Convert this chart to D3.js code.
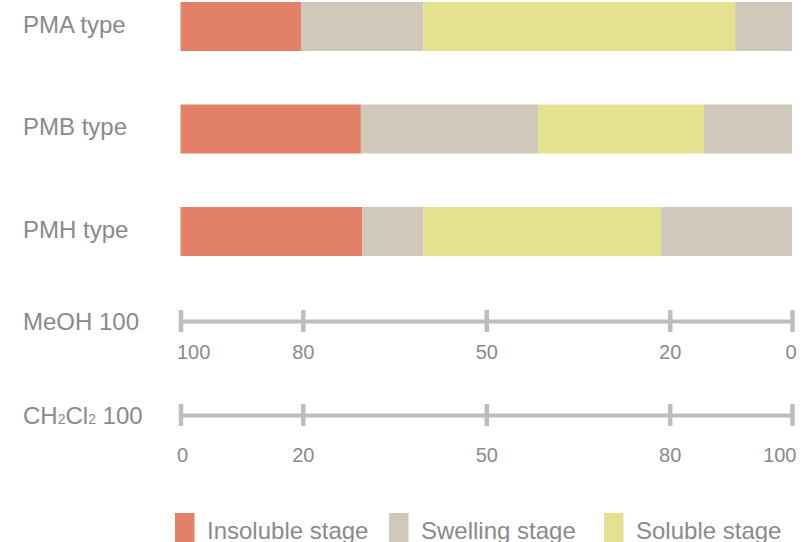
<!DOCTYPE html>
<html><head><meta charset="utf-8">
<script src="https://cdn.jsdelivr.net/npm/d3@7"></script>
<style>
html,body{margin:0;padding:0;background:#fff;}
svg{display:block;font-family:"Liberation Sans",Arial,Helvetica,sans-serif;}
</style></head>
<body><svg id="c" width="806" height="542"></svg>
<script>
// ---- data ----
const categories = ["PMA type", "PMB type", "PMH type"];
const insoluble = [19.7, 29.5, 29.7];
const swellingA = [20, 29, 10];
const soluble   = [51, 27.1, 38.9];
const swellingB = [9.3, 14.4, 21.4];
const stageNames = ["Insoluble stage", "Swelling stage", "Soluble stage"];
const meohTicks = [100, 80, 50, 20, 0];
const ch2cl2Ticks = [0, 20, 50, 80, 100];

const colors = {ins: "#E28068", swA: "#D0C8BB", sol: "#E5E28F", swB: "#D0C8BB"};
const legendColors = ["#E28068", "#D0C8BB", "#E5E28F"];
const textColor = "#8a8a8a";
const axisColor = "#bdbdbd";

const rows = categories.map((c, i) => ({cat: c, ins: insoluble[i], swA: swellingA[i], sol: soluble[i], swB: swellingB[i]}));
const keys = ["ins", "swA", "sol", "swB"];
const series = d3.stack().keys(keys)(rows);

const svg = d3.select("#c");
const x = d3.scaleLinear().domain([0, 100]).range([180.5, 792]);
const xr = d3.scaleLinear().domain([100, 0]).range([180.5, 792]);
const y = d3.scaleBand().domain(categories).range([2, 256]).paddingInner(0.522).paddingOuter(0);

// bars
svg.append("g").selectAll("g").data(series).join("g")
  .attr("fill", d => colors[d.key])
  .selectAll("rect").data(d => d).join("rect")
  .attr("x", d => x(d[0]))
  .attr("y", d => y(d.data.cat))
  .attr("width", d => x(d[1]) - x(d[0]))
  .attr("height", y.bandwidth());

// category labels
svg.append("g").selectAll("text").data(categories).join("text")
  .attr("x", 23)
  .attr("y", d => y(d) + y.bandwidth() / 2 - 2)
  .attr("dy", "0.35em")
  .attr("fill", textColor)
  .style("font-size", "24px")
  .text(d => d);

// axes
function drawAxis(scale, ticks, yPos, labelOffset) {
  const g = svg.append("g").attr("transform", `translate(0,${yPos})`);
  g.call(d3.axisBottom(scale).tickValues(ticks).tickSize(0).tickSizeOuter(0).tickFormat(d3.format("d")));
  g.select(".domain").attr("stroke", axisColor).attr("stroke-width", 4);
  g.selectAll(".tick line").attr("stroke", axisColor).attr("stroke-width", 4.5).attr("y1", -11).attr("y2", 11);
  const lo = 176.5, hi = 796;
  g.selectAll(".tick text")
    .attr("fill", textColor)
    .style("font-size", "20px")
    .style("font-family", "'Liberation Sans',Arial,sans-serif")
    .attr("y", labelOffset)
    .attr("dy", "0.35em")
    .each(function(d) {
      const w = this.getComputedTextLength();
      const px = scale(d);
      let shift = 0;
      if (px - w / 2 < lo) shift = lo - (px - w / 2);
      if (px + w / 2 > hi) shift = hi - (px + w / 2);
      d3.select(this).attr("x", shift);
    });
  return g;
}
drawAxis(xr, meohTicks, 321, 31);
drawAxis(x, ch2cl2Ticks, 415, 40);

// axis labels
svg.append("text").attr("x", 23).attr("y", 322).attr("dy", "0.35em")
  .attr("fill", textColor).style("font-size", "24px").text("MeOH 100");
const ct = svg.append("text").attr("x", 23).attr("y", 416).attr("dy", "0.35em")
  .attr("fill", textColor).style("font-size", "24px");
ct.append("tspan").text("CH");
ct.append("tspan").style("font-size", "14px").text("2");
ct.append("tspan").text("Cl");
ct.append("tspan").style("font-size", "14px").text("2");
ct.append("tspan").text(" 100");

// legend
const legendX = [175, 389, 604];
const lg = svg.append("g").selectAll("g").data(stageNames).join("g")
  .attr("transform", (d, i) => `translate(${legendX[i]},513)`);
lg.append("rect").attr("width", 19.5).attr("height", 32).attr("fill", (d, i) => legendColors[i]);
lg.append("text").attr("x", 32).attr("y", 26).attr("fill", textColor)
  .style("font-size", "24px").text(d => d);
</script>
</body></html>
